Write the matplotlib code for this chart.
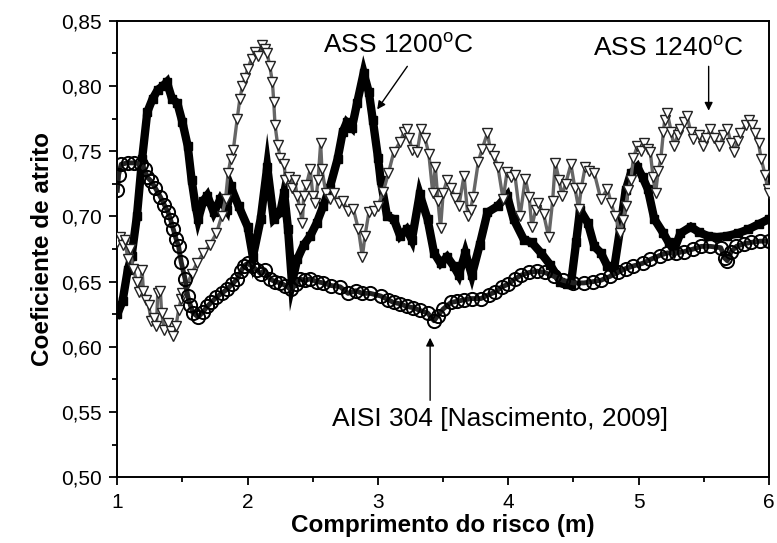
import matplotlib
matplotlib.use('Agg')
import matplotlib.pyplot as plt
from matplotlib.ticker import MultipleLocator

plt.rcParams['font.family'] = ['Liberation Sans', 'DejaVu Sans']
plt.rcParams['mathtext.fontset'] = 'custom'
plt.rcParams['mathtext.rm'] = 'Liberation Sans'

# ASS 1200 C (filled squares)
x_1200 = [1.00, 1.04, 1.08, 1.11, 1.15, 1.19, 1.23, 1.27, 1.31, 1.35, 1.38, 1.42,
          1.46, 1.50, 1.54, 1.57, 1.60, 1.62, 1.66, 1.69, 1.74, 1.79, 1.84, 1.87,
          1.93, 2.00, 2.04, 2.10, 2.15, 2.20, 2.25, 2.28, 2.31, 2.34, 2.38, 2.43,
          2.48, 2.53, 2.58, 2.63, 2.69, 2.73, 2.76, 2.80, 2.84, 2.89, 2.93, 2.96,
          3.00, 3.02, 3.07, 3.12, 3.17, 3.22, 3.26, 3.32, 3.38, 3.43, 3.48, 3.53,
          3.58, 3.62, 3.67, 3.72, 3.78, 3.84, 3.92, 3.99, 4.04, 4.12, 4.18, 4.25,
          4.32, 4.40, 4.45, 4.48, 4.52, 4.55, 4.61, 4.66, 4.71, 4.76, 4.81, 4.86,
          4.90, 4.94, 4.99, 5.03, 5.07, 5.12, 5.19, 5.23, 5.27, 5.32, 5.40, 5.46,
          5.53, 5.60, 5.68, 5.76, 5.84, 5.92, 6.00]
y_1200 = [0.625, 0.635, 0.659, 0.670, 0.700, 0.744, 0.780, 0.790, 0.797, 0.800, 0.803, 0.790,
          0.787, 0.772, 0.754, 0.728, 0.708, 0.698, 0.712, 0.716, 0.703, 0.713, 0.705, 0.723,
          0.708, 0.692, 0.669, 0.698, 0.738, 0.698, 0.703, 0.718, 0.690, 0.649, 0.667, 0.678,
          0.685, 0.695, 0.708, 0.722, 0.744, 0.765, 0.772, 0.768, 0.787, 0.810, 0.795, 0.774,
          0.745, 0.728, 0.700, 0.698, 0.685, 0.690, 0.682, 0.717, 0.698, 0.672, 0.664, 0.669,
          0.662, 0.655, 0.672, 0.655, 0.678, 0.703, 0.708, 0.716, 0.698, 0.682, 0.680, 0.672,
          0.663, 0.650, 0.648, 0.648, 0.680, 0.705, 0.695, 0.677, 0.672, 0.662, 0.659, 0.692,
          0.720, 0.733, 0.738, 0.730, 0.721, 0.698, 0.687, 0.680, 0.674, 0.687, 0.692, 0.688,
          0.685, 0.684, 0.685, 0.687, 0.690, 0.694, 0.698]

# ASS 1240 C (open down triangles)
x_1240 = [1.00, 1.02, 1.04, 1.06, 1.08, 1.10, 1.12, 1.15, 1.17, 1.19, 1.20, 1.22,
          1.24, 1.26, 1.28, 1.30, 1.31, 1.33, 1.34, 1.36, 1.39, 1.41, 1.43, 1.45,
          1.47, 1.49, 1.50, 1.53, 1.57, 1.61, 1.66, 1.71, 1.76, 1.80, 1.83, 1.85,
          1.87, 1.89, 1.92, 1.94, 1.96, 1.98, 2.00, 2.03, 2.06, 2.08, 2.11, 2.13,
          2.15, 2.17, 2.19, 2.20, 2.21, 2.23, 2.25, 2.28, 2.29, 2.32, 2.34, 2.36,
          2.38, 2.40, 2.42, 2.43, 2.45, 2.48, 2.50, 2.52, 2.54, 2.56, 2.57, 2.60,
          2.63, 2.66, 2.70, 2.73, 2.77, 2.81, 2.85, 2.88, 2.90, 2.93, 2.97, 3.00,
          3.04, 3.08, 3.12, 3.17, 3.20, 3.22, 3.24, 3.26, 3.30, 3.33, 3.36, 3.39,
          3.42, 3.44, 3.46, 3.48, 3.50, 3.53, 3.56, 3.59, 3.62, 3.66, 3.69, 3.71,
          3.73, 3.77, 3.80, 3.84, 3.86, 3.89, 3.92, 3.96, 3.99, 4.02, 4.05, 4.09,
          4.13, 4.16, 4.18, 4.21, 4.23, 4.27, 4.31, 4.34, 4.36, 4.39, 4.41, 4.44,
          4.48, 4.51, 4.54, 4.56, 4.59, 4.62, 4.66, 4.71, 4.76, 4.79, 4.82, 4.86,
          4.88, 4.90, 4.92, 4.94, 4.96, 4.99, 5.02, 5.04, 5.07, 5.09, 5.11, 5.13,
          5.15, 5.17, 5.19, 5.20, 5.22, 5.25, 5.27, 5.30, 5.32, 5.35, 5.37, 5.40,
          5.42, 5.46, 5.49, 5.52, 5.55, 5.58, 5.62, 5.65, 5.68, 5.71, 5.73, 5.76,
          5.78, 5.82, 5.85, 5.87, 5.89, 5.92, 5.94, 5.97, 5.99, 6.00]
y_1240 = [0.680, 0.684, 0.678, 0.682, 0.667, 0.675, 0.660, 0.650, 0.642, 0.659, 0.643, 0.636,
          0.632, 0.620, 0.622, 0.616, 0.641, 0.643, 0.626, 0.613, 0.618, 0.612, 0.608, 0.616,
          0.628, 0.637, 0.641, 0.646, 0.656, 0.664, 0.672, 0.678, 0.687, 0.700, 0.713, 0.733,
          0.744, 0.751, 0.775, 0.790, 0.800, 0.806, 0.813, 0.821, 0.826, 0.823, 0.831, 0.828,
          0.825, 0.815, 0.803, 0.788, 0.770, 0.755, 0.745, 0.740, 0.728, 0.730, 0.722, 0.728,
          0.716, 0.706, 0.695, 0.716, 0.724, 0.736, 0.716, 0.710, 0.728, 0.756, 0.736, 0.718,
          0.713, 0.718, 0.710, 0.712, 0.704, 0.706, 0.690, 0.669, 0.685, 0.703, 0.704, 0.708,
          0.719, 0.733, 0.749, 0.757, 0.765, 0.767, 0.760, 0.751, 0.749, 0.767, 0.760, 0.748,
          0.718, 0.738, 0.712, 0.691, 0.718, 0.728, 0.722, 0.714, 0.708, 0.731, 0.700, 0.705,
          0.715, 0.742, 0.752, 0.764, 0.752, 0.746, 0.738, 0.713, 0.734, 0.730, 0.732, 0.700,
          0.729, 0.715, 0.692, 0.705, 0.710, 0.702, 0.684, 0.712, 0.741, 0.728, 0.716, 0.725,
          0.740, 0.722, 0.706, 0.722, 0.738, 0.735, 0.733, 0.713, 0.721, 0.710, 0.700, 0.687,
          0.697, 0.708, 0.720, 0.728, 0.745, 0.754, 0.750, 0.756, 0.752, 0.749, 0.730, 0.718,
          0.735, 0.744, 0.765, 0.774, 0.779, 0.765, 0.754, 0.762, 0.767, 0.772, 0.777, 0.765,
          0.759, 0.762, 0.754, 0.760, 0.767, 0.760, 0.754, 0.762, 0.767, 0.756, 0.749, 0.758,
          0.764, 0.770, 0.774, 0.770, 0.764, 0.756, 0.744, 0.732, 0.721, 0.718]

# AISI 304 [Nascimento, 2009] (open circles)
x_304 = [1.00, 1.01, 1.03, 1.08, 1.13, 1.18, 1.21, 1.23, 1.26, 1.29, 1.33, 1.36,
         1.39, 1.41, 1.43, 1.45, 1.47, 1.49, 1.52, 1.54, 1.56, 1.58, 1.62, 1.66,
         1.69, 1.72, 1.76, 1.80, 1.84, 1.88, 1.92, 1.95, 1.97, 2.00, 2.03, 2.07,
         2.10, 2.13, 2.17, 2.21, 2.25, 2.29, 2.33, 2.37, 2.40, 2.44, 2.48, 2.53,
         2.58, 2.64, 2.71, 2.77, 2.83, 2.88, 2.94, 3.02, 3.08, 3.12, 3.17, 3.22,
         3.27, 3.32, 3.38, 3.43, 3.46, 3.50, 3.56, 3.61, 3.66, 3.72, 3.79, 3.85,
         3.90, 3.95, 4.00, 4.05, 4.10, 4.16, 4.22, 4.28, 4.35, 4.42, 4.50, 4.58,
         4.65, 4.71, 4.78, 4.84, 4.90, 4.96, 5.03, 5.09, 5.16, 5.22, 5.29, 5.35,
         5.42, 5.48, 5.55, 5.63, 5.66, 5.68, 5.71, 5.75, 5.81, 5.86, 5.93, 6.00]
y_304 = [0.720, 0.732, 0.740, 0.741, 0.741, 0.740, 0.736, 0.730, 0.727, 0.722, 0.715, 0.709,
         0.703, 0.697, 0.690, 0.683, 0.677, 0.665, 0.652, 0.639, 0.632, 0.626, 0.623, 0.627,
         0.631, 0.634, 0.638, 0.641, 0.644, 0.648, 0.652, 0.658, 0.662, 0.664, 0.662, 0.659,
         0.656, 0.659, 0.652, 0.650, 0.649, 0.647, 0.644, 0.648, 0.652, 0.651, 0.652, 0.650,
         0.649, 0.647, 0.646, 0.641, 0.643, 0.641, 0.641, 0.639, 0.636, 0.634, 0.633, 0.631,
         0.630, 0.628, 0.626, 0.620, 0.624, 0.629, 0.634, 0.635, 0.636, 0.637, 0.637, 0.640,
         0.642, 0.646, 0.648, 0.652, 0.655, 0.657, 0.658, 0.657, 0.654, 0.651, 0.649, 0.649,
         0.650, 0.651, 0.654, 0.657, 0.660, 0.662, 0.664, 0.667, 0.670, 0.672, 0.672, 0.673,
         0.675, 0.677, 0.677, 0.676, 0.668, 0.666, 0.673, 0.677, 0.679, 0.680, 0.681, 0.681]

y_ticks = [0.50, 0.55, 0.60, 0.65, 0.70, 0.75, 0.80, 0.85]
y_tick_labels = ['0,50', '0,55', '0,60', '0,65', '0,70', '0,75', '0,80', '0,85']
x_ticks = [1, 2, 3, 4, 5, 6]

fig = plt.figure(figsize=(7.77, 5.43), dpi=100)
ax = fig.add_axes([0.151, 0.121, 0.8387, 0.8409])

ax.plot(x_1200, y_1200, color='black', lw=6, marker='s', ms=6,
        mfc='black', mec='black', solid_joinstyle='miter', zorder=2)
ax.plot(x_1240, y_1240, color='#666666', lw=2.4, marker='v', ms=7,
        mfc='white', mec='#222222', mew=1.0, zorder=3)
ax.plot(x_304, y_304, color='#222222', lw=3.5, marker='o', ms=9.5,
        mfc='none', mec='black', mew=1.4, zorder=4)

# labels with arrows
arrow = dict(arrowstyle='-|>', color='black', lw=1.0, mutation_scale=12,
             shrinkA=0, shrinkB=0)
ax.text(3.15, 0.8314, r'ASS 1200$^\mathregular{o}$C', fontsize=19,
        ha='center', va='center', zorder=6)
ax.annotate('', xy=(2.994, 0.782), xytext=(3.225, 0.815), arrowprops=arrow, zorder=6)
ax.text(5.226, 0.8286, r'ASS 1240$^\mathregular{o}$C', fontsize=19,
        ha='center', va='center', zorder=6)
ax.annotate('', xy=(5.537, 0.781), xytext=(5.537, 0.815), arrowprops=arrow, zorder=6)
ax.text(3.935, 0.5448, 'AISI 304 [Nascimento, 2009]', fontsize=19,
        ha='center', va='center', zorder=6)
ax.annotate('', xy=(3.40, 0.607), xytext=(3.40, 0.559), arrowprops=arrow, zorder=6)

ax.set_xlim(1, 6)
ax.set_ylim(0.50, 0.85)
ax.set_xticks(x_ticks)
ax.set_yticks(y_ticks, labels=y_tick_labels)
ax.xaxis.set_minor_locator(MultipleLocator(0.5))
ax.yaxis.set_minor_locator(MultipleLocator(0.025))
ax.tick_params(which='major', direction='out', length=6, width=1.3, labelsize=15, pad=5)
ax.tick_params(which='minor', direction='out', length=3.5, width=1.3)
ax.tick_params(axis='x', which='major', pad=5)
for s in ax.spines.values():
    s.set_linewidth(1.4)

ax.set_xlabel('Comprimento do risco (m)', fontsize=17.5, fontweight='bold', labelpad=2)
ax.set_ylabel('Coeficiente de atrito', fontsize=17.5, fontweight='bold', labelpad=5)

fig.savefig('out.png', dpi=100)
